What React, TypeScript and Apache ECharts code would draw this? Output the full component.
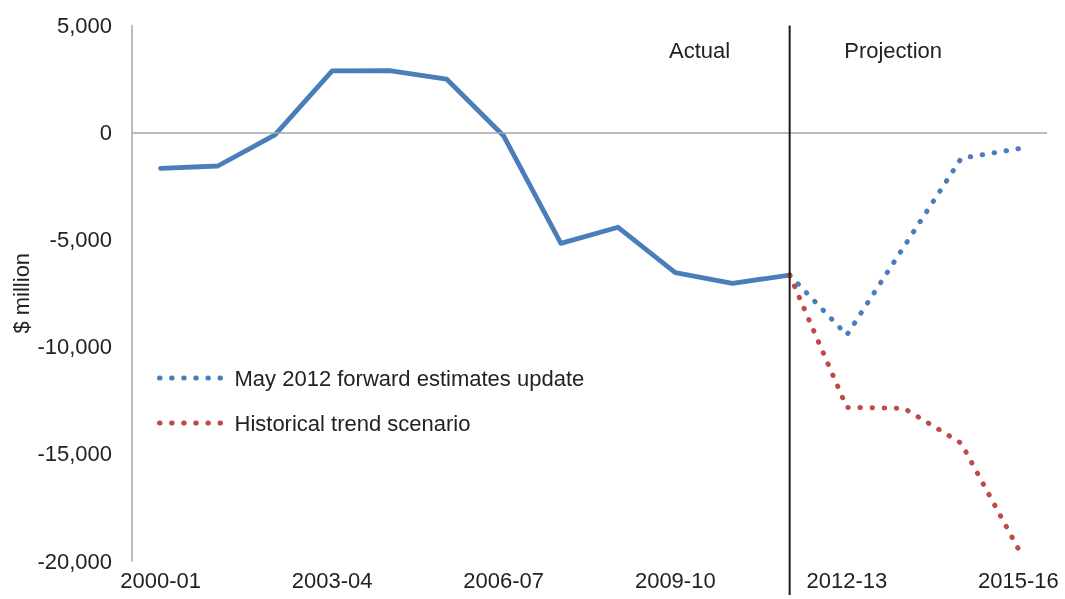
import React, { useEffect, useRef } from "react";
import * as echarts from "echarts";

const categories = [
  "2000-01", "2001-02", "2002-03", "2003-04", "2004-05", "2005-06", "2006-07", "2007-08",
  "2008-09", "2009-10", "2010-11", "2011-12", "2012-13", "2013-14", "2014-15", "2015-16",
];

const actual = [
  -1670, -1560, -110, 2880, 2890, 2500, -160, -5170,
  -4420, -6540, -7040, -6650, null, null, null, null,
];

const mayUpdate = [
  null, null, null, null, null, null, null, null,
  null, null, null, -6650, -9450, -5320, -1200, -750,
];

const historical = [
  null, null, null, null, null, null, null, null,
  null, null, null, -6650, -12830, -12870, -14500, -19440,
];

const yMin = -20000;
const yMax = 5000;
const yInterval = 5000;

const FONT = "'Liberation Sans', Arial, sans-serif";
const TEXT = "#222222";
const BLUE = "#4a7ebb";
const RED = "#be4b48";
const GREY = "#a6a6a6";
const DOTS = [0.5, 11.6];

export default function App() {
  const ref = useRef<HTMLDivElement>(null);

  useEffect(() => {
    if (!ref.current) return;
    const chart = echarts.init(ref.current, null, { renderer: "svg" });
    chart.setOption({
      animation: false,
      textStyle: { fontFamily: FONT },
      grid: { left: 132, right: 18, top: 25.5, bottom: 38, outerBoundsMode: "none" },
      xAxis: {
        type: "category",
        data: categories,
        boundaryGap: true,
        axisLine: { show: false },
        axisTick: { show: false },
        splitLine: { show: false },
        axisLabel: { interval: 2, fontSize: 22, color: TEXT, margin: 8, fontFamily: FONT },
      },
      yAxis: {
        type: "value",
        min: yMin,
        max: yMax,
        interval: yInterval,
        name: "$ million",
        nameLocation: "middle",
        nameGap: 100,
        nameMoveOverlap: false,
        nameTextStyle: { fontSize: 22, color: TEXT, fontFamily: FONT },
        axisLine: { show: true, lineStyle: { color: GREY, width: 1.5 } },
        axisTick: { show: false },
        splitLine: { show: false },
        axisLabel: {
          fontSize: 22,
          color: TEXT,
          margin: 20,
          fontFamily: FONT,
          formatter: (v: number) => v.toLocaleString("en-US"),
        },
      },
      legend: {
        orient: "vertical",
        left: 152,
        top: 362,
        itemWidth: 64,
        itemHeight: 14,
        itemGap: 23,
        data: ["May 2012 forward estimates update", "Historical trend scenario"],
        itemStyle: { opacity: 0 },
        lineStyle: { width: 5, cap: "round", type: DOTS },
        textStyle: { fontSize: 22, color: TEXT, lineHeight: 22, fontFamily: FONT, padding: [0, 0, 0, 6] },
      },
      series: [
        {
          name: "__zero",
          type: "line",
          data: [],
          z: 1,
          markLine: {
            silent: true,
            symbol: "none",
            label: { show: false },
            lineStyle: { color: GREY, width: 1.5, type: "solid" },
            data: [{ yAxis: 0 }],
          },
        },
        {
          name: "Actual",
          type: "line",
          data: actual,
          symbol: "none",
          z: 3,
          lineStyle: { color: BLUE, width: 4.8, join: "round", cap: "round" },
        },
        {
          name: "May 2012 forward estimates update",
          type: "line",
          data: mayUpdate,
          symbol: "none",
          z: 4,
          itemStyle: { color: BLUE },
          lineStyle: { color: BLUE, width: 5, type: DOTS, cap: "round" },
        },
        {
          name: "Historical trend scenario",
          type: "line",
          data: historical,
          symbol: "none",
          z: 5,
          itemStyle: { color: RED },
          lineStyle: { color: RED, width: 5, type: DOTS, cap: "round" },
        },
      ],
    });

    const divX = chart.convertToPixel({ xAxisIndex: 0 }, "2011-12") as number;
    const topY = chart.convertToPixel({ yAxisIndex: 0 }, yMax) as number;
    const botY = chart.convertToPixel({ yAxisIndex: 0 }, yMin) as number;
    chart.setOption({
      graphic: [
        {
          type: "line",
          z: 10,
          shape: { x1: divX, y1: topY, x2: divX, y2: botY + 34 },
          style: { stroke: "#1a1a1a", lineWidth: 2 },
        },
        {
          type: "text",
          x: divX - 90,
          y: topY + 25,
          style: {
            text: "Actual",
            fontSize: 22,
            fontFamily: FONT,
            fill: TEXT,
            align: "center",
            verticalAlign: "middle",
          },
        },
        {
          type: "text",
          x: divX + 103.5,
          y: topY + 25,
          style: {
            text: "Projection",
            fontSize: 22,
            fontFamily: FONT,
            fill: TEXT,
            align: "center",
            verticalAlign: "middle",
          },
        },
      ],
    });

    return () => chart.dispose();
  }, []);

  return (
    <div
      ref={ref}
      style={{ position: "fixed", left: 0, top: 0, width: 1065, height: 599 }}
    />
  );
}
